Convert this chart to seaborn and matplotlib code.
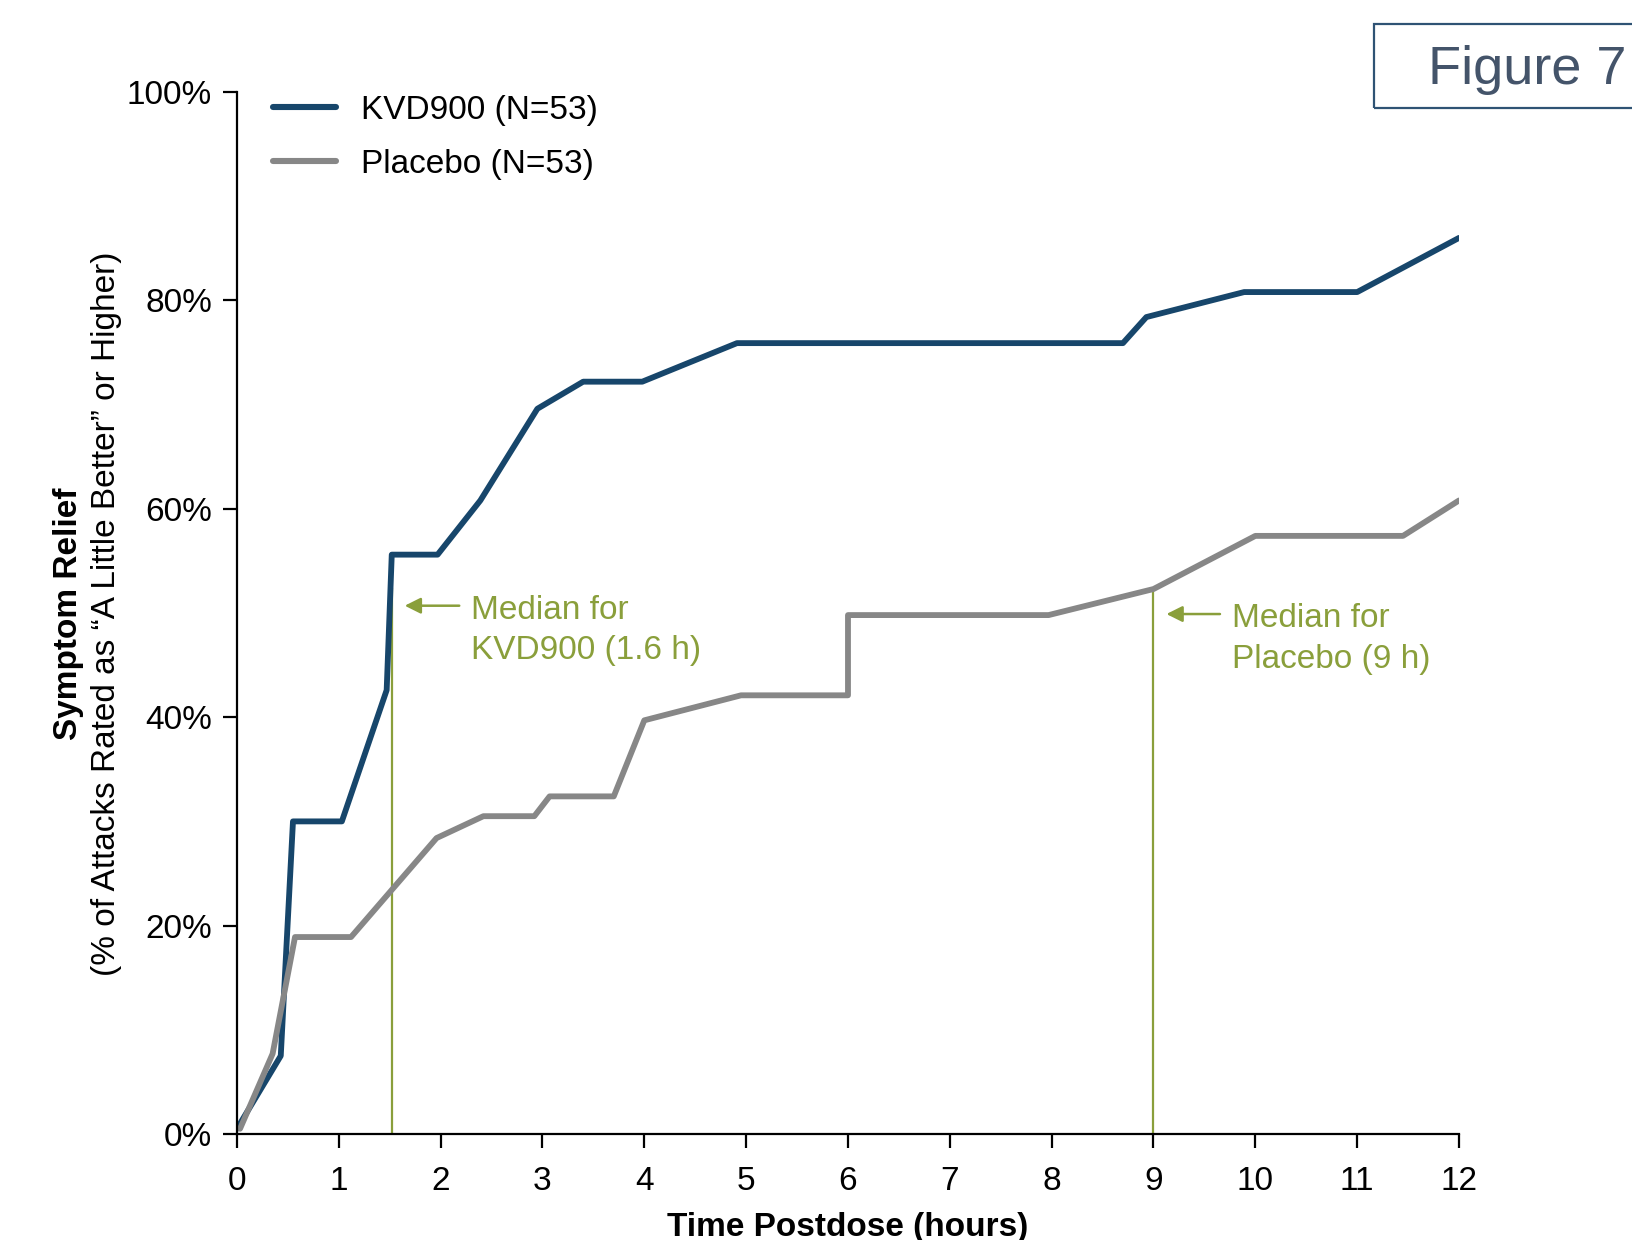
import numpy as np
import pandas as pd
import seaborn as sns
import matplotlib.pyplot as plt
from matplotlib.patches import Rectangle
from matplotlib.ticker import PercentFormatter

# values (hours, % of attacks)
kvd_hours = [0, 0.43, 0.55, 1.03, 1.47, 1.52, 1.97, 2.39, 2.95, 3.40, 3.98, 4.91, 8.70, 8.93, 9.89, 11.0, 12.0]
kvd_pct = [0.5, 7.5, 30.0, 30.0, 42.6, 55.6, 55.6, 60.8, 69.6, 72.2, 72.2, 75.9, 75.9, 78.4, 80.8, 80.8, 86.0]
pbo_hours = [0.03, 0.35, 0.57, 1.12, 1.96, 2.42, 2.92, 3.07, 3.70, 4.0, 4.95, 6.0, 6.0, 7.97, 9.0, 10.0, 11.45, 12.0]
pbo_pct = [0.5, 7.7, 18.9, 18.9, 28.4, 30.5, 30.5, 32.4, 32.4, 39.7, 42.1, 42.1, 49.8, 49.8, 52.3, 57.4, 57.4, 60.8]
series_labels = ['KVD900 (N=53)', 'Placebo (N=53)']
median_hours = [1.52, 9.0]
median_pct = [52.4, 52.3]
median_text = ['Median for\nKVD900 (1.6 h)', 'Median for\nPlacebo (9 h)']

BLUE = '#17466b'
GREY = '#878787'
GREEN = '#8a9f3b'
SLATE = '#44546a'
FS = 24

df = pd.concat([
    pd.DataFrame({'hours': kvd_hours, 'pct': kvd_pct, 'arm': series_labels[0]}),
    pd.DataFrame({'hours': pbo_hours, 'pct': pbo_pct, 'arm': series_labels[1]}),
]).reset_index(drop=True)

sns.set_style("ticks")
plt.rcParams['font.family'] = ['Liberation Sans', 'DejaVu Sans']
plt.rcParams.update({'text.color': 'black', 'axes.labelcolor': 'black',
                     'xtick.color': 'black', 'ytick.color': 'black'})

fig = plt.figure(figsize=(16.32, 12.4), dpi=100)
ax = fig.add_axes([0.1452, 0.0855, 0.894 - 0.1452, 0.9258 - 0.0855])

# median markers go underneath the curves
for mh, mp in zip(median_hours, median_pct):
    ax.plot([mh, mh], [0, mp], color=GREEN, lw=1.6, zorder=1)

sns.lineplot(data=df, x='hours', y='pct', hue='arm', palette=[BLUE, GREY], sort=False,
             estimator=None, lw=4.2, ax=ax, zorder=2)

# arrows + text for medians
ann_tail = [2.21, 9.68]
ann_y = [50.7, 49.9]
for mh, tail, ay, txt in zip(median_hours, ann_tail, ann_y, median_text):
    ax.annotate('', xy=(mh + 0.1, ay), xytext=(tail, ay),
                arrowprops=dict(arrowstyle='-|>', color=GREEN, lw=1.8, mutation_scale=24))
    ax.text(tail + 0.09, ay - 2.4, txt, color=GREEN, fontsize=FS, va='center', ha='left',
            linespacing=1.38)

ax.set_xlim(0, 12)
ax.set_ylim(0, 100)
ax.set_xticks(range(0, 13))
ax.set_yticks(range(0, 101, 20))
ax.yaxis.set_major_formatter(PercentFormatter(decimals=0))
ax.tick_params(labelsize=FS, length=10, width=1.6, direction='out', pad=8)
ax.tick_params(axis='x', pad=13)
for s in ['top', 'right']:
    ax.spines[s].set_visible(False)
for s in ['left', 'bottom']:
    ax.spines[s].set_linewidth(1.6)
    ax.spines[s].set_color('black')

ax.set_xlabel('Time Postdose (hours)', fontsize=FS, fontweight='bold', labelpad=11)
ax.set_ylabel('')
fig.text(69 / 1632, 1 - 614 / 1240, 'Symptom Relief', rotation=90, fontsize=FS,
         fontweight='bold', ha='center', va='center')
fig.text(107 / 1632, 1 - 614 / 1240, '(% of Attacks Rated as \u201cA Little Better\u201d or Higher)',
         rotation=90, fontsize=FS, ha='center', va='center')

leg = ax.legend(loc='upper left', bbox_to_anchor=(0.0295, 0.997), frameon=False, fontsize=FS,
                borderpad=0, borderaxespad=0, handlelength=1.9, handletextpad=0.75,
                labelspacing=0.68)
for h in leg.get_lines():
    h.set_linewidth(4.4)

# "Figure 7" box in the top right corner
fig.patches.append(Rectangle((1374 / 1632, 1 - 108 / 1240), 0.2, 84 / 1240, transform=fig.transFigure,
                             fill=False, edgecolor='#2f5374', lw=1.6, clip_on=False))
fig.text(1527 / 1632, 1 - 70 / 1240, 'Figure 7', color=SLATE, fontsize=39, ha='center', va='center')

fig.savefig('out.png', dpi=100)
